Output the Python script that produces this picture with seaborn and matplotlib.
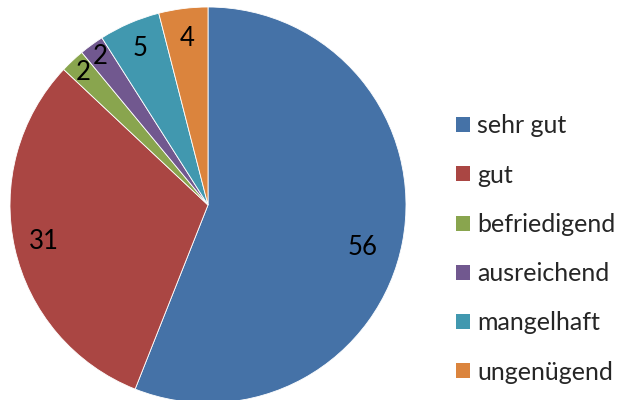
import matplotlib
matplotlib.use("Agg")
import matplotlib.pyplot as plt
import seaborn as sns
import numpy as np
from matplotlib.patches import Patch

sns.set_theme(style="white")
plt.rcParams['font.family'] = ['Lato', 'DejaVu Sans']

categories = ["sehr gut", "gut", "befriedigend", "ausreichend", "mangelhaft", "ungenügend"]
values = [56, 31, 2, 2, 5, 4]
colors = ["#4572A7", "#AA4643", "#89A54E", "#71588F", "#4198AF", "#DB843D"]
label_dist = [0.81, 0.85, 0.92, 0.93, 0.86, 0.85]
label_shift = [-4.5, 0.0, 0.0, 0.0, 0.0, 0.0]

fig = plt.figure(figsize=(6.18, 4.0), dpi=100)
ax = fig.add_axes([10/618, -3/400, 396/618, 396/400])
wedges, _ = ax.pie(values, colors=colors, startangle=90, counterclock=False,
                   radius=1.0, wedgeprops=dict(edgecolor="#ffffff", linewidth=0.6, alpha=1))
ax.set_xlim(-1, 1)
ax.set_ylim(-1, 1)
ax.set_aspect("equal")

for w, v, d, s in zip(wedges, values, label_dist, label_shift):
    ang = np.deg2rad((w.theta1 + w.theta2) / 2 + s)
    ax.text(d * np.cos(ang), d * np.sin(ang), str(v), ha="center", va="center",
            fontsize=18.5, color="black")

handles = [Patch(facecolor=c, edgecolor="none") for c in colors]
fig.legend(handles, categories, loc="center left", bbox_to_anchor=(456/618, 1 - 249/400),
           frameon=False, fontsize=18, handlelength=0.55, handleheight=0.55,
           handletextpad=0.3, labelspacing=1.05, borderaxespad=0, borderpad=0)

fig.savefig("out.png", dpi=100)
